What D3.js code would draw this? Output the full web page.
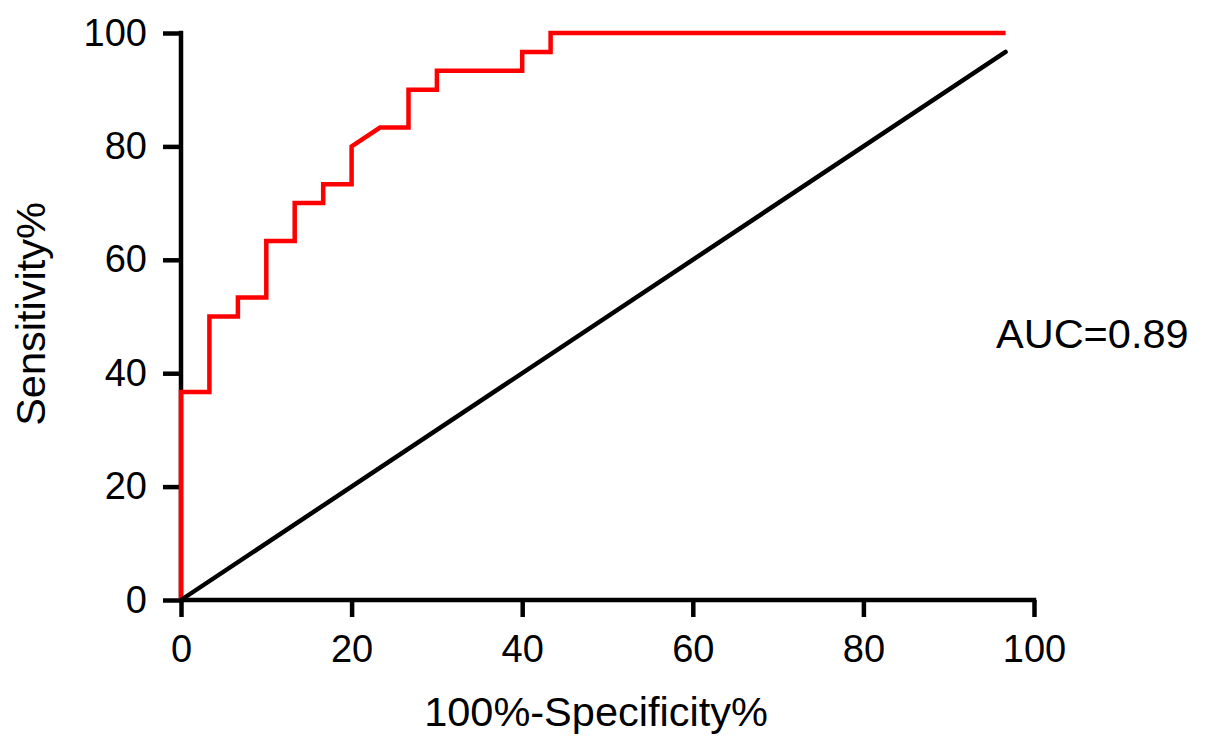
<!DOCTYPE html>
<html>
<head>
<meta charset="utf-8">
<script src="https://cdn.jsdelivr.net/npm/d3@7"></script>
<style>
  html, body { margin: 0; padding: 0; background: #fff; }
  svg { display: block; }
  text { font-family: "Liberation Sans", Arial, Helvetica, sans-serif; fill: #000; }
</style>
</head>
<body>
<svg id="chart" width="1205" height="752"></svg>
<script>
// ROC curve points (100% - Specificity %, Sensitivity %)
const rocFpr = [0, 0, 3.33, 3.33, 6.67, 6.67, 10, 10, 13.33, 13.33, 16.67, 16.67, 20, 20, 23.33, 26.67, 26.67, 30, 30, 40, 40, 43.33, 43.33, 96.67];
const rocTpr = [0, 36.67, 36.67, 50, 50, 53.33, 53.33, 63.33, 63.33, 70, 70, 73.33, 73.33, 80, 83.33, 83.33, 90, 90, 93.33, 93.33, 96.67, 96.67, 100, 100];
// Reference (chance) line
const refX = [0, 96.67];
const refY = [0, 96.67];
const xTicks = [0, 20, 40, 60, 80, 100];
const yTicks = [0, 20, 40, 60, 80, 100];
const xTitle = "100%-Specificity%";
const yTitle = "Sensitivity%";
const aucLabel = "AUC=0.89";

const svg = d3.select("#chart");
const x = d3.scaleLinear().domain([0, 100]).range([181, 1034]);
const y = d3.scaleLinear().domain([0, 100]).range([600, 33]);

// Axes
const xAxis = d3.axisBottom(x).tickValues(xTicks).tickSize(17).tickSizeOuter(0).tickPadding(18).tickFormat(d3.format("d"));
const yAxis = d3.axisLeft(y).tickValues(yTicks).tickSize(18).tickSizeOuter(0).tickPadding(16).tickFormat(d3.format("d"));

const gx = svg.append("g").attr("transform", `translate(0,${y(0)})`).call(xAxis);
const gy = svg.append("g").attr("transform", `translate(${x(0)},0)`).call(yAxis);

[gx, gy].forEach(g => {
  g.select(".domain").attr("stroke", "#000").attr("stroke-width", 4.5).attr("stroke-linecap", "square");
  g.selectAll(".tick line").attr("stroke", "#000").attr("stroke-width", 4.5);
  g.selectAll(".tick text").style("font-family", '"Liberation Sans", Arial, sans-serif').style("font-size", "38px").attr("fill", "#000");
});
gx.select(".domain").attr("d", `M${x(0)},0H${x(100)}`);
gy.select(".domain").attr("d", `M0,${y(0)}V${y(100)}`);

// ROC curve
const rocData = rocFpr.map((v, i) => [v, rocTpr[i]]);
const line = d3.line().x(d => x(d[0])).y(d => y(d[1]));
svg.append("path")
  .datum(rocData)
  .attr("d", line)
  .attr("fill", "none")
  .attr("stroke", "#ff0000")
  .attr("stroke-width", 4.5)
  .attr("stroke-linejoin", "miter");

// Chance line
const refData = refX.map((v, i) => [v, refY[i]]);
svg.append("path")
  .datum(refData)
  .attr("d", line)
  .attr("fill", "none")
  .attr("stroke", "#000")
  .attr("stroke-width", 4.5)
  .attr("stroke-linecap", "round");

// Titles
svg.append("text")
  .attr("x", 596).attr("y", 726)
  .attr("text-anchor", "middle")
  .style("font-size", "41.5px")
  .text(xTitle);

svg.append("text")
  .attr("transform", "translate(45,314) rotate(-90)")
  .attr("text-anchor", "middle")
  .style("font-size", "41.5px")
  .text(yTitle);

svg.append("text")
  .attr("x", 996).attr("y", 348)
  .attr("text-anchor", "start")
  .style("font-size", "41.5px")
  .text(aucLabel);
</script>
</body>
</html>
